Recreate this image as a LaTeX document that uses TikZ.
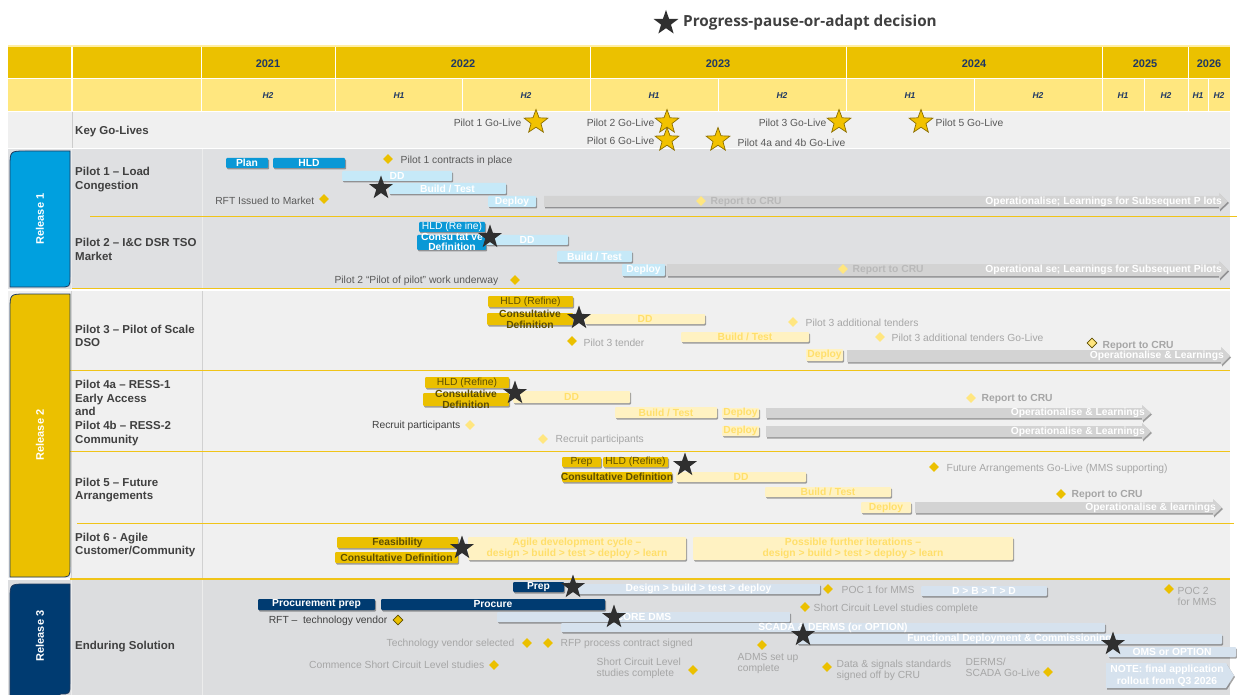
\documentclass[tikz,border=0pt]{standalone}
\usepackage{fontspec}
\setmainfont{Liberation Sans}
\newfontfamily\ttlfont{Open Sans}
\usetikzlibrary{shapes.geometric,shadows}
\definecolor{hdY}{HTML}{EBC100}
\definecolor{hdL}{HTML}{FFE77F}
\definecolor{hdT}{HTML}{1F3864}
\definecolor{bgK}{HTML}{F0F0F0}
\definecolor{bgA}{HTML}{DFE0E2}
\definecolor{bgB}{HTML}{F0F0F0}
\definecolor{bgC}{HTML}{DCDDDF}
\definecolor{cyanT}{HTML}{00A0DF}
\definecolor{navy}{HTML}{003B71}
\definecolor{navyO}{HTML}{1E3A5F}
\definecolor{bluB}{HTML}{0A98D6}
\definecolor{bluL}{HTML}{C6E9F8}
\definecolor{yelB}{HTML}{EBC000}
\definecolor{yelT}{HTML}{5E4E00}
\definecolor{yelL}{HTML}{FFF2C2}
\definecolor{yelLT}{HTML}{FFDF6B}
\definecolor{grayA}{HTML}{D3D3D3}
\definecolor{grayT}{HTML}{A6A6A6}
\definecolor{cruT}{HTML}{B9B9B9}
\definecolor{darkT}{HTML}{404040}
\definecolor{midT}{HTML}{595959}
\definecolor{sepY}{HTML}{F0C419}
\definecolor{steel}{HTML}{D6E2EE}
\definecolor{starD}{HTML}{2F2F2F}
\definecolor{starG}{HTML}{F2C200}
\definecolor{starO}{HTML}{8A6D00}
\definecolor{diaL}{HTML}{FFE680}
\tikzset{
  shd/.style={drop shadow={shadow xshift=1pt,shadow yshift=-1.5pt,opacity=0.35,fill=black}},
  gbase/.style={rectangle,anchor=north west,inner sep=0pt,outer sep=0pt,rounded corners=1pt,shd},
  bB/.style={fill=bluB}, bL/.style={fill=bluL}, yB/.style={fill=yelB}, yL/.style={fill=yelL},
  nv/.style={fill=navy}, st/.style={fill=steel},
  tW/.style={inner sep=0pt,align=center,text=white,font=\fontsize{10.3}{10.8}\selectfont\bfseries},
  tWr/.style={inner sep=0pt,align=center,text=white,font=\fontsize{10.3}{10.8}\selectfont},
  tYr/.style={inner sep=0pt,align=center,text=yelT,font=\fontsize{10.3}{11}\selectfont},
  tYb/.style={inner sep=0pt,align=center,text=yelT,font=\fontsize{10.3}{11}\selectfont\bfseries},
  tLY/.style={inner sep=0pt,align=center,text=yelLT,font=\fontsize{10.3}{11.5}\selectfont\bfseries},
  arrT/.style={inner sep=0pt,text=white,font=\fontsize{10.3}{11}\selectfont\bfseries},
  lbl/.style={inner sep=0.5pt,align=left,text=midT,font=\fontsize{10.3}{11.2}\selectfont},
  glbl/.style={inner sep=0.5pt,align=left,text=grayT,font=\fontsize{10.3}{11.2}\selectfont},
  crul/.style={inner sep=0.5pt,text=grayT,font=\fontsize{10.3}{11}\selectfont\bfseries},
  crulL/.style={inner sep=0.5pt,text=cruT,font=\fontsize{10.3}{11}\selectfont\bfseries},
  rowlbl/.style={inner sep=0pt,anchor=west,align=left,text=darkT,font=\fontsize{11.5}{13.7}\selectfont\bfseries},
  yr/.style={text=hdT,font=\fontsize{11}{12}\selectfont\bfseries},
  hh/.style={text=hdT,font=\fontsize{8.5}{10}\selectfont\bfseries\itshape},
  reltxt/.style={rotate=90,text=white,font=\fontsize{11}{12}\selectfont\bfseries},
  dmd/.style={diamond,inner sep=0pt,minimum size=10pt},
  dY/.style={fill=yelB}, dL/.style={fill=diaL}, dO/.style={fill=diaL,draw=yelT,line width=0.8pt},
  dO2/.style={fill=yelB,draw=yelT,line width=0.8pt},
  dstar/.style={star,star points=5,star point ratio=2.5,inner sep=0pt,minimum size=25pt,fill=starD},
  gstar/.style={star,star points=5,star point ratio=2.4,inner sep=0pt,minimum size=25pt,fill=starG,draw=starO,line width=0.7pt},
  sepline/.style={draw=sepY,line width=1pt},
  colline/.style={line width=0.8pt}
}
\newcommand\gb[8]{%
  \node[gbase,#6,minimum width=#4pt,minimum height=#5pt] (#1) at (#2,#3) {};
  \node[#7] (#1-t) at (#1.center) {#8};}
\newcommand\garr[6]{%
  \path[fill=grayA,shd] (#2,#3) -- (#4-9,#3) -- (#4-9,#3-3) -- (#4,{(#3+#5)/2}) -- (#4-9,#5+3) -- (#4-9,#5) -- (#2,#5) -- cycle;
  \node[arrT,anchor=east] (#1) at (#4-6,{(#3+#5)/2}) {#6};}
\newcommand\dm[4]{\node[dmd,#4] (#1) at (#2,#3) {};}
\begin{document}
\begin{tikzpicture}[x=1pt,y=-1pt]
\useasboundingbox (0,0) rectangle (1237,695);
% ---------- title
\node[dstar,minimum size=26pt] (tstar) at (666,23) {};
\node[anchor=west,inner sep=0pt,text=darkT,font=\ttlfont\fontsize{15.3}{17}\selectfont\bfseries] (title) at (683,23) {Progress-pause-or-adapt decision};
% ---------- header
\fill[hdL!70] (8,45.5) rectangle (1230,47);
\fill[hdY] (8,47) rectangle (1230,78.5);
\fill[hdL] (8,78.5) rectangle (1230,111);
\draw[white,line width=1.5pt] (8,78.5) -- (1230,78.5);
\foreach \x in {72,201.5,335.5,590.5,846.5,1102.5,1188.5} \draw[white,line width=1.5pt] (\x,47) -- (\x,111);
\foreach \x in {462.5,718.5,974.5,1144.5,1208.5} \draw[white,line width=1.5pt] (\x,78.5) -- (\x,111);
\node[yr] (y21) at (268,64) {2021};
\node[yr] (y22) at (463,64) {2022};
\node[yr] (y23) at (718,64) {2023};
\node[yr] (y24) at (974,64) {2024};
\node[yr] (y25) at (1145,64) {2025};
\node[yr] (y26) at (1209,64) {2026};
\node[hh] (h1) at (268,96) {H2};
\node[hh] (h2) at (399,96) {H1};
\node[hh] (h3) at (526,96) {H2};
\node[hh] (h4) at (654,96) {H1};
\node[hh] (h5) at (782,96) {H2};
\node[hh] (h6) at (910,96) {H1};
\node[hh] (h7) at (1038,96) {H2};
\node[hh] (h8) at (1123,96) {H1};
\node[hh] (h9) at (1166,96) {H2};
\node[hh] (h10) at (1198,96) {H1};
\node[hh] (h11) at (1219,96) {H2};
% ---------- key go-lives
\fill[bgK] (8,112) rectangle (1230,148);
\draw[black!20,colline] (72,112) -- (72,148);
\node[rowlbl] (kgl) at (75,132) {Key Go-Lives};
\node[lbl,anchor=east] (g1t) at (522,123) {Pilot 1 Go-Live};
\node[lbl,anchor=east] (g2t) at (655,123) {Pilot 2 Go-Live};
\node[lbl,anchor=east] (g6t) at (655,141) {Pilot 6 Go-Live};
\node[lbl,anchor=west] (g4t) at (737,143) {Pilot 4a and 4b Go-Live};
\node[lbl,anchor=east] (g3t) at (827,123) {Pilot 3 Go-Live};
\node[lbl,anchor=west] (g5t) at (935,123) {Pilot 5 Go-Live};
% ---------- release 1 background
\fill[bgA] (8,149) rectangle (1230,289);
\draw[white!85!gray,colline] (71.5,149) -- (71.5,289);
\draw[white!85!gray,colline] (202,149) -- (202,289);
\draw[sepline] (90,216.5) -- (1237,216.5);
\draw[sepline] (72,288.5) -- (1230,288.5);
\draw[fill=cyanT,draw=navyO,line width=0.8pt] (10,287) -- (10,167) .. controls (10,151) .. (26,151) -- (70,151) -- (70,277) .. controls (70,287) .. (60,287) -- cycle;
\node[reltxt] (r1) at (40,219) {Release 1};
\node[rowlbl] (p1l) at (75,179.5) {Pilot 1 – Load\\Congestion};
\node[rowlbl] (p2l) at (75,249.5) {Pilot 2 – I\&C DSR TSO\\Market};
% pilot 1
\gb{plan}{226}{158}{42}{10}{bB}{tW}{Plan}
\gb{hld1}{273}{158}{72}{10}{bB}{tW}{HLD}
\gb{dd1}{342}{171}{110}{10}{bL}{tW}{DD}
\gb{bt1}{389}{183}{117}{11}{bL}{tW}{Build / Test}
\gb{dep1}{488}{196}{48}{11}{bL}{tW}{Deploy}
\garr{op1}{544}{196}{1228}{207}{Operationalise; Learnings for Subsequent P lots}
\dm{d11}{388}{159}{dY}
\node[lbl,anchor=west] (t11) at (400,161) {Pilot 1 contracts in place};
\node[lbl,anchor=east] (t12) at (315,201) {RFT Issued to Market};
\dm{d12}{324}{199}{dY}
\dm{d13}{701}{201}{dL}
\node[crulL,anchor=west] (t13) at (710,202) {Report to CRU};
% pilot 2
\gb{hld2}{419}{222}{66}{10}{bB}{tWr}{HLD (Re ine)}
\node[gbase,bB,minimum width=69pt,minimum height=15pt] (cd2) at (417,235) {};
\node[tW,font=\fontsize{10.3}{10}\selectfont\bfseries] (cd2-t) at (452,241.5) {Consu tat ve\\Definition};
\gb{dd2}{486}{235}{82}{10}{bL}{tW}{DD}
\gb{bt2}{557}{251}{75}{11}{bL}{tW}{Build / Test}
\gb{dep2}{622}{264}{43}{12}{bL}{tW}{Deploy}
\garr{op2}{667}{264}{1228}{276}{Operational se; Learnings for Subsequent Pilots}
\dm{d21}{843}{269}{dL}
\node[crulL,anchor=west] (t21) at (852,270) {Report to CRU};
\node[lbl,anchor=east] (t22) at (499,281) {Pilot 2 “Pilot of pilot” work underway};
\dm{d22}{515}{280}{dY}
% ---------- release 2 background
\fill[bgB] (8,291) rectangle (1230,578);
\draw[black!18,colline] (71.5,291) -- (71.5,578);
\draw[black!18,colline] (202,291) -- (202,578);
\draw[sepline] (70,370.5) -- (1230,370.5);
\draw[sepline] (70,451.5) -- (1230,451.5);
\draw[sepline] (77,523.5) -- (1234,523.5);
\draw[sepline] (70,578.5) -- (1230,578.5);
\draw[fill=yelB,draw=navyO,line width=0.8pt] (10,577) -- (10,310) .. controls (10,294) .. (26,294) -- (70,294) -- (70,567) .. controls (70,577) .. (60,577) -- cycle;
\node[reltxt] (r2) at (40,435) {Release 2};
\node[rowlbl] (p3l) at (75,336) {Pilot 3 – Pilot of Scale\\DSO};
\node[rowlbl] (p4l) at (75,413) {Pilot 4a – RESS-1\\Early Access\\and\\Pilot 4b – RESS-2\\Community};
\node[rowlbl] (p5l) at (75,490) {Pilot 5 – Future\\Arrangements};
\node[rowlbl] (p6l) at (75,545) {Pilot 6 - Agile\\Customer/Community};
% pilot 3
\gb{hld3}{488}{296}{85}{11}{yB}{tYr}{HLD (Refine)}
\node[gbase,yB,minimum width=86pt,minimum height=12pt] (cd3) at (487,313) {};
\node[tYb] (cd3-t) at (530,319) {Consultative\\Definition};
\gb{dd3}{585}{314}{120}{10}{yL}{tLY}{DD}
\gb{bt3}{681}{332}{128}{10}{yL}{tLY}{Build / Test}
\gb{dep3}{806}{349}{37}{12}{yL}{tLY}{Deploy}
\garr{op3}{847}{350}{1230}{362}{Operationalise \& Learnings}
\dm{d31}{572}{341}{dY}
\node[glbl,anchor=west] (t31) at (583,343) {Pilot 3 tender};
\dm{d32}{793}{322}{dL}
\node[glbl,anchor=west] (t32) at (805,323) {Pilot 3 additional tenders};
\dm{d33}{880}{337}{dL}
\node[glbl,anchor=west] (t33) at (891,338) {Pilot 3 additional tenders Go-Live};
\dm{d34}{1092}{343}{dO}
\node[crul,anchor=west] (t34) at (1102,346) {Report to CRU};
% pilot 4
\gb{hld4}{425}{377}{84}{11}{yB}{tYr}{HLD (Refine)}
\node[gbase,yB,minimum width=86pt,minimum height=13pt] (cd4) at (423,393) {};
\node[tYb] (cd4-t) at (466,399) {Consultative\\Definition};
\gb{dd4}{513}{391}{117}{12}{yL}{tLY}{DD}
\gb{bt4}{615}{407}{102}{11}{yL}{tLY}{Build / Test}
\gb{dep4a}{722}{408}{37}{10}{yL}{tLY}{Deploy}
\gb{dep4b}{722}{426}{37}{10}{yL}{tLY}{Deploy}
\garr{op4a}{766}{408}{1151}{418}{Operationalise \& Learnings}
\garr{op4b}{766}{426}{1151}{437}{Operationalise \& Learnings}
\node[lbl,anchor=east,text=darkT] (t41) at (461,426) {Recruit participants};
\dm{d41}{470}{425}{dL}
\dm{d42}{543}{439}{dL}
\node[glbl,anchor=west] (t42) at (555,440) {Recruit participants};
\dm{d43}{971}{398}{dL}
\node[crul,anchor=west] (t43) at (981,399) {Report to CRU};
% pilot 5
\gb{prep5}{562}{457}{39}{10}{yB}{tYr}{Prep}
\gb{hld5}{603}{457}{65}{10}{yB}{tYr}{HLD (Refine)}
\gb{cd5}{562}{472}{110}{10}{yB}{tYb}{Consultative Definition}
\gb{dd5}{676}{472}{130}{10}{yL}{tLY}{DD}
\gb{bt5}{765}{487}{126}{10}{yL}{tLY}{Build / Test}
\gb{dep5}{861}{502}{50}{11}{yL}{tLY}{Deploy}
\garr{op5}{915}{502}{1222}{513}{Operationalise \& learnings}
\dm{d51}{934}{467}{dY}
\node[glbl,anchor=west] (t51) at (946,469) {Future Arrangements Go-Live (MMS supporting)};
\dm{d52}{1061}{494}{dY}
\node[crul,anchor=west] (t52) at (1071,495) {Report to CRU};
% pilot 6
\gb{fea}{337}{537}{121}{11}{yB}{tYb}{Feasibility}
\gb{cd6}{335}{552}{123}{11}{yB}{tYb}{Consultative Definition}
\gb{agile}{468}{537}{218}{23}{yL}{tLY}{Agile development cycle –\\design > build > test > deploy > learn}
\gb{poss}{693}{537}{320}{23}{yL}{tLY}{Possible further iterations –\\design > build > test > deploy > learn}
% ---------- release 3 background
\fill[bgC] (8,580) rectangle (1230,695);
\draw[sepline] (70,579.5) -- (1230,579.5);
\draw[white!85!gray,colline] (71.5,580) -- (71.5,695);
\draw[white!85!gray,colline] (202,580) -- (202,695);
\draw[fill=navy,draw=navyO,line width=0.8pt] (10,697) -- (10,600) .. controls (10,584) .. (26,584) -- (70,584) -- (70,684) .. controls (70,694) .. (60,694) -- (60,697) -- cycle;
\node[reltxt] (r3) at (40,636) {Release 3};
\node[rowlbl] (esl) at (75,647) {Enduring Solution};
\gb{prep6}{513}{582}{51}{10}{nv}{tW}{Prep}
\gb{dbtd}{577}{584}{243}{10}{st}{tW}{Design > build > test > deploy}
\dm{d61}{828}{589}{dY}
\node[glbl,anchor=west] (t61) at (841,590) {POC 1 for MMS};
\gb{dbtd2}{921}{586}{126}{10}{st}{tW}{D > B > T > D}
\dm{d62}{1169}{589}{dY}
\node[glbl,anchor=west] (t62) at (1177,596.5) {POC 2\\for MMS};
\gb{pp}{258}{599}{117}{11}{nv}{tW}{Procurement prep}
\gb{proc}{381}{599}{224}{11}{nv}{tW}{Procure}
\node[lbl,anchor=east,text=darkT] (t63) at (388,621) {RFT –\ \ technology vendor};
\dm{d63}{398}{620}{dO2}
\gb{core}{497}{612}{293}{10}{st}{tW}{CORE DMS}
\gb{scada}{561}{623}{544}{9}{st}{tW}{SCADA \& DERMS (or OPTION)}
\gb{fdc}{797}{634}{425}{10}{st}{tW}{Functional Deployment \& Commissioning}
\gb{oms}{1108}{647}{128}{10}{st}{tW}{OMS or OPTION}
\path[fill=steel,shd] (1106,663) -- (1226,663) -- (1234,675.5) -- (1226,688) -- (1106,688) -- cycle;
\node[tW,font=\fontsize{10.3}{12}\selectfont\bfseries] (note) at (1167,676) {NOTE: final application\\rollout from Q3 2026};
\node[glbl,anchor=east] (t64) at (515,644) {Technology vendor selected};
\dm{d64}{527}{643}{dY}
\dm{d65}{548}{643}{dY}
\node[glbl,anchor=west] (t65) at (560,644) {RFP process contract signed};
\node[glbl,anchor=east] (t66) at (485,665) {Commence Short Circuit Level studies};
\dm{d66}{494}{665}{dY}
\node[glbl,anchor=west] (t67) at (596,668.5) {Short Circuit Level\\studies complete};
\dm{d67}{693}{670}{dY}
\dm{d68}{762}{645}{dY}
\node[glbl,anchor=west] (t68) at (737,663.5) {ADMS set up\\complete};
\dm{d69}{805}{607}{dY}
\node[glbl,anchor=west] (t69) at (813,609) {Short Circuit Level studies complete};
\dm{d70}{827}{667}{dY}
\node[glbl,anchor=west] (t70) at (836,670.5) {Data \& signals standards\\signed off by CRU};
\node[glbl,anchor=west] (t71) at (965,667) {DERMS/\\SCADA Go-Live};
\dm{d71}{1048}{672}{dY}
% ---------- stars on top
\node[gstar] (gs1) at (536,122) {};
\node[gstar] (gs2) at (667,122) {};
\node[gstar] (gs6) at (667,140) {};
\node[gstar] (gs4) at (718,140) {};
\node[gstar] (gs3) at (839,122) {};
\node[gstar] (gs5) at (921,122) {};
\node[dstar] (s1) at (381,188) {};
\node[dstar] (s2) at (490,237) {};
\node[dstar] (s3) at (579,318) {};
\node[dstar] (s4) at (515,393) {};
\node[dstar] (s5) at (685,465) {};
\node[dstar] (s6) at (462,548) {};
\node[dstar] (s7) at (573,587) {};
\node[dstar] (s8) at (614,617) {};
\node[dstar] (s9) at (803,635) {};
\node[dstar] (s10) at (1113,644) {};
\end{tikzpicture}
\end{document}
